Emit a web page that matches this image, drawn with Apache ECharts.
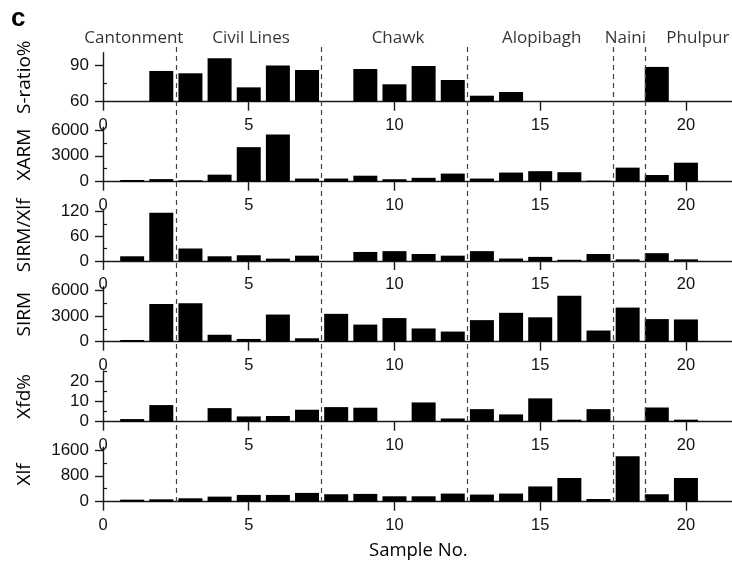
<!DOCTYPE html>
<html>
<head>
<meta charset="utf-8">
<script src="https://cdn.jsdelivr.net/npm/echarts@6/dist/echarts.min.js"></script>
<style>
html,body{margin:0;padding:0;background:#fff;}
#chart{width:732px;height:563px;}
</style>
</head>
<body>
<div id="chart"></div>
<script>
// ---- data ----
var samples = [1,2,3,4,5,6,7,8,9,10,11,12,13,14,15,16,17,18,19,20,21];
var sRatio  = [null,85.1,83.2,95.5,71.7,89.5,85.9,null,86.7,74.2,89.2,77.7,64.9,67.9,null,null,null,null,88.4,null,null];
var xarm    = [200,300,165,815,4000,5470,365,365,695,285,450,940,365,1060,1220,1100,120,1630,775,2200,null];
var sirmXlf = [11.5,117.5,30.4,11.5,14,5.8,13,null,22,24,17,13,24,6,10,3,17,4,19,4,null];
var sirm    = [200,4380,4460,810,320,3160,400,3240,1990,2750,1540,1180,2510,3360,2840,5350,1300,3970,2630,2590,null];
var xfd     = [1.3,8.2,null,6.7,2.6,2.8,5.9,7.2,6.9,null,9.5,1.6,6.2,3.6,11.5,1.0,6.2,null,7.0,1.0,null];
var xlf     = [63,73,105,157,209,209,272,230,241,167,167,251,220,251,471,732,84,1402,230,732,null];

var panelNames = ['S-ratio%','XARM','SIRM/Xlf','SIRM','Xfd%','Xlf'];
var panelData  = [sRatio, xarm, sirmXlf, sirm, xfd, xlf];
var panelMin   = [60, 0, 0, 0, 0, 0];
var panelMax   = [100, 6300, 125, 6400, 25, 1680];
var majorTicks = [[60,90],[0,3000,6000],[0,60,120],[0,3000,6000],[0,10,20],[0,800,1600]];
var minorTicks = [[75],[1500,4500],[30,90],[1500,4500],[5,15,25],[400,1200]];
var xTicks = [0,5,10,15,20];

var boundaries = [2.5, 7.5, 12.5, 17.5, 18.6];
var regions = ['Cantonment','Civil Lines','Chawk','Alopibagh','Naini','Phulpur'];
var regionX = [1.06, 5.08, 10.12, 15.05, 17.92, 20.41];

// ---- layout ----
var panelTop    = [52.7, 127.3, 209.6, 286.7, 371.0, 447.3];
var panelBottom = [101.7, 181.7, 261.0, 341.7, 421.7, 501.7];
var LEFT = 103, XMAX = 21.58;
var axisColor = '#1a1a1a';
var numFont = 'Liberation Sans, Arial, sans-serif';
var txtFont = 'Open Sans, Noto Sans, sans-serif';
function plain(v) { return String(v); }

var grids = [], xAxes = [], yAxes = [], series = [];
for (var p = 0; p < 6; p++) {
  grids.push({left: LEFT, right: 0, top: panelTop[p], height: panelBottom[p] - panelTop[p]});
  xAxes.push({
    type: 'value', gridIndex: p, min: 0, max: XMAX,
    axisLine: {show: true, onZero: false, lineStyle: {color: axisColor, width: 1.4}},
    axisTick: {show: true, customValues: xTicks, length: 9, lineStyle: {color: axisColor, width: 1.4}},
    axisLabel: {show: true, customValues: xTicks, formatter: plain, margin: 15, fontSize: 16.5, color: '#111', fontFamily: numFont},
    splitLine: {show: false}
  });
  yAxes.push({
    type: 'value', gridIndex: p, min: panelMin[p], max: panelMax[p],
    name: panelNames[p], nameLocation: 'middle', nameGap: 69,
    nameTextStyle: {fontSize: 19, color: '#000', fontFamily: txtFont},
    axisLine: {show: true, onZero: false, lineStyle: {color: axisColor, width: 1.4}},
    axisTick: {show: true, customValues: majorTicks[p], length: 8, lineStyle: {color: axisColor, width: 1.4}},
    axisLabel: {show: true, customValues: majorTicks[p], formatter: plain, margin: 14, fontSize: 17, color: '#111', fontFamily: numFont},
    splitLine: {show: false}
  });
  yAxes.push({
    type: 'value', gridIndex: p, min: panelMin[p], max: panelMax[p],
    axisLine: {show: false},
    axisTick: {show: true, customValues: minorTicks[p], length: 4, lineStyle: {color: axisColor, width: 1.2}},
    axisLabel: {show: false},
    splitLine: {show: false}
  });
  var d = [];
  for (var i = 0; i < samples.length; i++) {
    if (panelData[p][i] != null) d.push([samples[i], panelData[p][i]]);
  }
  series.push({
    type: 'bar', xAxisIndex: p, yAxisIndex: p * 2, data: d,
    barWidth: 24, clip: true,
    itemStyle: {color: '#000'},
    silent: true, animation: false
  });
}

// overlay grid for boundary lines and region labels (y in pixel-like units, inverted)
grids.push({left: LEFT, right: 0, top: 0, height: 563});
xAxes.push({type: 'value', gridIndex: 6, min: 0, max: XMAX, show: false});
yAxes.push({type: 'value', gridIndex: 6, min: 0, max: 563, inverse: true, show: false});
var lineTop = 47, lineBottom = 502, labelY = 38;
series.push({
  type: 'scatter', xAxisIndex: 6, yAxisIndex: 12,
  symbolSize: 0,
  data: regions.map(function (r, i) { return {value: [regionX[i], labelY], name: r}; }),
  label: {show: true, position: 'inside', formatter: '{b}', fontSize: 17, color: '#000', fontFamily: txtFont},
  markLine: {
    symbol: 'none', silent: true, animation: false,
    lineStyle: {type: [5, 4], color: '#444', width: 1.2},
    label: {show: false},
    data: boundaries.map(function (b) { return [{coord: [b, lineTop]}, {coord: [b, lineBottom]}]; })
  },
  silent: true, animation: false, z: 5
});

var chart = echarts.init(document.getElementById('chart'), null, {renderer: 'canvas'});
chart.setOption({
  animation: false,
  backgroundColor: '#fff',
  grid: grids, xAxis: xAxes, yAxis: yAxes, series: series,
  graphic: [{type: 'text', left: 11, top: 6, style: {text: 'c', fontSize: 26, fontWeight: 'bold', fontFamily: 'Liberation Sans, Arial, sans-serif', fill: '#000'}},
            {type: 'text', left: 369, top: 541, style: {text: 'Sample No.', fontSize: 18.5, fontFamily: txtFont, fill: '#000'}}]
});
</script>
</body>
</html>
